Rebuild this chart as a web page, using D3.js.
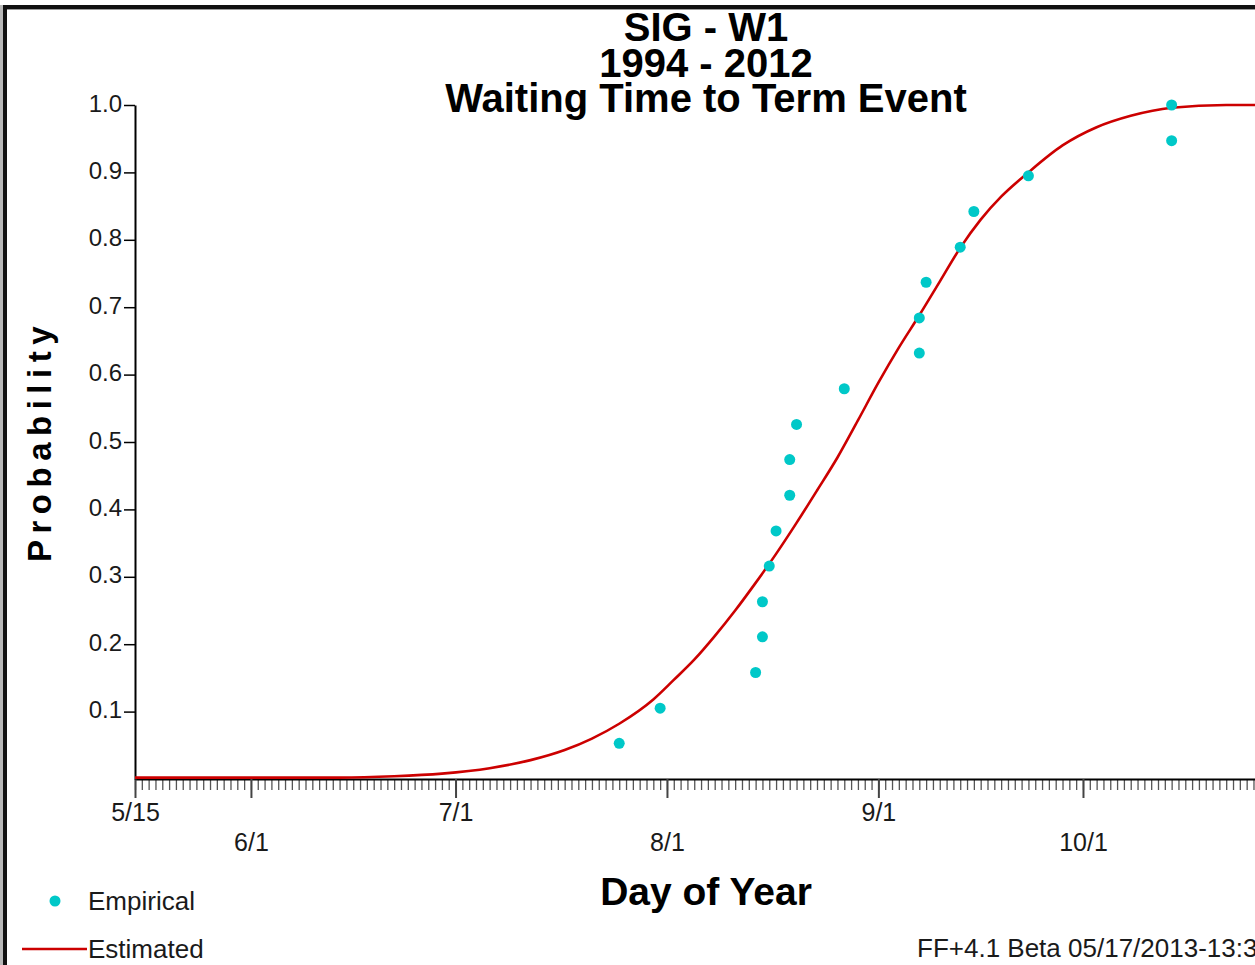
<!DOCTYPE html>
<html>
<head>
<meta charset="utf-8">
<script src="https://cdn.jsdelivr.net/npm/d3@7"></script>
<style>
  html, body { margin: 0; padding: 0; background: #fff; }
  svg { display: block; overflow: hidden; }
  text { font-family: "Liberation Sans", Arial, sans-serif; }
</style>
</head>
<body>
<script>
// ---------------- data ----------------
const titleLines = ["SIG - W1", "1994 - 2012", "Waiting Time to Term Event"];
const xLabel = "Day of Year";
const yLabel = "Probability";
const footer = "FF+4.1 Beta 05/17/2013-13:33";
const legendLabels = ["Empirical", "Estimated"];

const xDomain = ["05/15", "10/31"];
const majorTickDates = ["05/15", "06/01", "07/01", "08/01", "09/01", "10/01"];
const majorTickLabels = ["5/15", "6/1", "7/1", "8/1", "9/1", "10/1"];
const yTicks = [0.1, 0.2, 0.3, 0.4, 0.5, 0.6, 0.7, 0.8, 0.9, 1.0];

// Empirical points (date, cumulative probability)
const empDates = ["07/25", "07/31", "08/14", "08/15", "08/15", "08/16", "08/17", "08/19", "08/19", "08/20",
                  "08/27", "09/07", "09/07", "09/08", "09/13", "09/15", "09/23", "10/14", "10/14"];
const empProbs = [0.053, 0.105, 0.158, 0.211, 0.263, 0.316, 0.368, 0.421, 0.474, 0.526,
                  0.579, 0.632, 0.684, 0.737, 0.789, 0.842, 0.895, 0.947, 1.0];

// Estimated curve
const curveDates = ["05/15", "06/14", "06/22", "06/29", "07/06", "07/12", "07/17", "07/21", "07/25", "07/30",
                    "08/02", "08/05", "08/08", "08/11", "08/14", "08/17", "08/20", "08/23", "08/26", "08/29",
                    "09/01", "09/04", "09/07", "09/10", "09/13", "09/16", "09/19", "09/23", "09/28", "10/03",
                    "10/08", "10/14", "10/22", "10/31"];
const curveProbs = [0.002, 0.002, 0.004, 0.008, 0.016, 0.028, 0.043, 0.060, 0.082, 0.118,
                    0.147, 0.177, 0.212, 0.250, 0.291, 0.334, 0.380, 0.428, 0.477, 0.532,
                    0.588, 0.640, 0.688, 0.738, 0.788, 0.830, 0.864, 0.900, 0.940, 0.967,
                    0.984, 0.996, 1.0, 1.0];

// ---------------- setup ----------------
const W = 1255, H = 965;
const parse = s => d3.utcParse("%Y/%m/%d")("2013/" + s);
const FONT = '"Liberation Sans", Arial, sans-serif';

const svg = d3.select("body").append("svg").attr("width", W).attr("height", H);

// frame
svg.append("rect").attr("x", 0).attr("y", 0).attr("width", W).attr("height", H).attr("fill", "#fff");
svg.append("rect").attr("x", 0).attr("y", 5).attr("width", 3).attr("height", H - 5).attr("fill", "#b8b8b8");
svg.append("rect").attr("x", 3).attr("y", 5).attr("width", 4).attr("height", H - 5).attr("fill", "#111");
svg.append("rect").attr("x", 3).attr("y", 5).attr("width", W).attr("height", 4).attr("fill", "#111");
svg.append("rect").attr("x", 7).attr("y", 9).attr("width", W).attr("height", 1).attr("fill", "#9a9a9a");

const x0 = 135, pxPerDay = 6.82;
const d0 = parse(xDomain[0]), d1 = parse(xDomain[1]);
const nDays = d3.utcDay.count(d0, d1);
const x = d3.scaleUtc().domain([d0, d1]).range([x0, x0 + nDays * pxPerDay]);
const y = d3.scaleLinear().domain([0, 1]).range([779, 105]);

// ---------------- axes ----------------
// minor day ticks
const minorAxis = d3.axisBottom(x)
  .tickValues(d3.utcDay.range(d0, d3.utcDay.offset(d1, 1)))
  .tickSize(11).tickSizeOuter(0).tickFormat("");
const gMinor = svg.append("g").attr("transform", `translate(0,${y(0)})`).call(minorAxis);
gMinor.select(".domain").remove();
gMinor.selectAll(".tick line").attr("stroke", "#555").attr("stroke-width", 1.3);

// major ticks
const majorAxis = d3.axisBottom(x)
  .tickValues(majorTickDates.map(parse))
  .tickSize(19).tickSizeOuter(0)
  .tickFormat((d, i) => majorTickLabels[i]);
const gMajor = svg.append("g").attr("transform", `translate(0,${y(0)})`).call(majorAxis);
gMajor.select(".domain").attr("stroke", "#000").attr("stroke-width", 2.2);
gMajor.selectAll(".tick line").attr("stroke", "#444").attr("stroke-width", 2);
gMajor.selectAll(".tick text")
  .attr("font-family", FONT).attr("font-size", 25).attr("fill", "#1a1a1a")
  .attr("dy", null)
  .attr("y", (d, i) => (i % 2 === 0 ? 42 : 72));

// y axis
const yAxis = d3.axisLeft(y).tickValues(yTicks).tickSize(11).tickSizeOuter(0)
  .tickFormat(d3.format(".1f"));
const gY = svg.append("g").attr("transform", `translate(${x0},0)`).call(yAxis);
gY.select(".domain").attr("stroke", "#000").attr("stroke-width", 2);
gY.selectAll(".tick line").attr("stroke", "#000").attr("stroke-width", 1.5);
gY.selectAll(".tick text")
  .attr("font-family", FONT).attr("font-size", 24).attr("fill", "#1a1a1a")
  .attr("x", -13).attr("dy", "0.25em");

// ---------------- marks ----------------
const curve = curveDates.map((d, i) => ({ date: parse(d), p: curveProbs[i] }));
const line = d3.line().x(d => x(d.date)).y(d => y(d.p)).curve(d3.curveMonotoneX);
svg.append("path").datum(curve)
  .attr("d", line).attr("fill", "none")
  .attr("stroke", "#cc0000").attr("stroke-width", 2.6);

const emp = empDates.map((d, i) => ({ date: parse(d), p: empProbs[i] }));
svg.append("g").selectAll("circle").data(emp).join("circle")
  .attr("cx", d => x(d.date)).attr("cy", d => y(d.p)).attr("r", 5.5)
  .attr("fill", "#00c8c8");

// ---------------- texts ----------------
const titleY = [41, 77, 112];
svg.append("g").selectAll("text").data(titleLines).join("text")
  .attr("x", 706).attr("y", (d, i) => titleY[i])
  .attr("text-anchor", "middle").attr("font-size", 40).attr("font-weight", "bold")
  .attr("fill", "#000").text(d => d);

svg.append("text").attr("x", 706).attr("y", 905)
  .attr("text-anchor", "middle").attr("font-size", 39).attr("font-weight", "bold")
  .attr("fill", "#000").text(xLabel);

svg.append("text")
  .attr("transform", "translate(51,441) rotate(-90)")
  .attr("text-anchor", "middle").attr("font-size", 33).attr("font-weight", "bold")
  .attr("letter-spacing", 6.5).attr("fill", "#000").text(yLabel);

// legend
svg.append("circle").attr("cx", 55).attr("cy", 901).attr("r", 5.5).attr("fill", "#00c8c8");
svg.append("text").attr("x", 88).attr("y", 910).attr("font-size", 26).attr("fill", "#1a1a1a").text(legendLabels[0]);
svg.append("line").attr("x1", 22).attr("x2", 87).attr("y1", 949).attr("y2", 949)
  .attr("stroke", "#cc0000").attr("stroke-width", 2.6);
svg.append("text").attr("x", 88).attr("y", 958).attr("font-size", 26).attr("fill", "#1a1a1a").text(legendLabels[1]);

// footer
svg.append("text").attr("x", 917).attr("y", 957).attr("font-size", 26).attr("fill", "#1a1a1a").text(footer);
</script>
</body>
</html>
